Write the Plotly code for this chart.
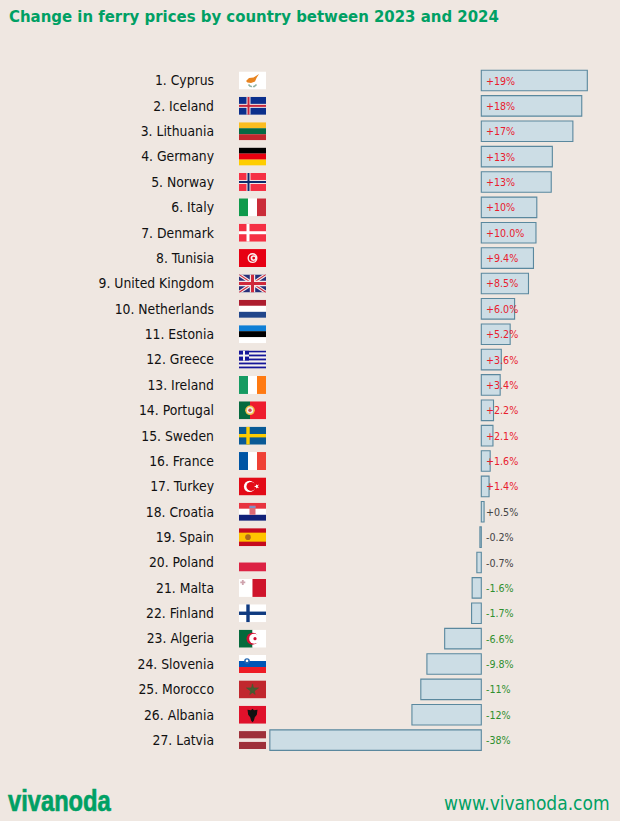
import base64
import plotly.graph_objects as go

countries = ["Cyprus", "Iceland", "Lithuania", "Germany", "Norway", "Italy", "Denmark", "Tunisia",
             "United Kingdom", "Netherlands", "Estonia", "Greece", "Ireland", "Portugal", "Sweden",
             "France", "Turkey", "Croatia", "Spain", "Poland", "Malta", "Finland", "Algeria",
             "Slovenia", "Morocco", "Albania", "Latvia"]
values = [19.1, 18.1, 16.5, 12.8, 12.6, 10.0, 9.85, 9.4, 8.5, 6.0, 5.2, 3.6, 3.4, 2.2, 2.1, 1.6, 1.4,
          0.5, -0.25, -0.8, -1.65, -1.75, -6.6, -9.8, -10.9, -12.5, -38.1]
value_labels = ["+19%", "+18%", "+17%", "+13%", "+13%", "+10%", "+10.0%", "+9.4%", "+8.5%", "+6.0%",
                "+5.2%", "+3.6%", "+3.4%", "+2.2%", "+2.1%", "+1.6%", "+1.4%", "+0.5%", "-0.2%", "-0.7%",
                "-1.6%", "-1.7%", "-6.6%", "-9.8%", "-11%", "-12%", "-38%"]

BG = "#efe7e1"
GREEN = "#00a064"
COND = "DejaVu Sans Condensed"


def hstripes(*cols):
    h = 18 / len(cols)
    return "".join(f'<rect x="0" y="{i*h}" width="27" height="{h + 0.05}" fill="{c}"/>' for i, c in enumerate(cols))


def vstripes(*cols):
    w = 27 / len(cols)
    return "".join(f'<rect x="{i*w}" y="0" width="{w + 0.05}" height="18" fill="{c}"/>' for i, c in enumerate(cols))


def cross(bg, outer, inner=None, w=3.4, cx=10):
    s = f'<rect width="27" height="18" fill="{bg}"/>'
    s += f'<rect x="{cx - w/2}" width="{w}" height="18" fill="{outer}"/><rect y="{9 - w/2}" width="27" height="{w}" fill="{outer}"/>'
    if inner:
        iw = w / 2
        s += f'<rect x="{cx - iw/2}" width="{iw}" height="18" fill="{inner}"/><rect y="{9 - iw/2}" width="27" height="{iw}" fill="{inner}"/>'
    return s


uk = ('<rect width="27" height="18" fill="#27307a"/>'
      '<path d="M0 0L27 18M27 0L0 18" stroke="#f2e9e9" stroke-width="3.4"/>'
      '<path d="M0 0L27 18M27 0L0 18" stroke="#cf2a3c" stroke-width="1.1"/>'
      '<path d="M13.5 0V18M0 9H27" stroke="#f2e9e9" stroke-width="5.4"/>'
      '<path d="M13.5 0V18M0 9H27" stroke="#cf2a3c" stroke-width="3"/>')
greece = (hstripes("#16169a", "#f6f2f0", "#16169a", "#f6f2f0", "#16169a", "#f6f2f0", "#16169a", "#f6f2f0", "#16169a")
          + '<rect width="10" height="10" fill="#16169a"/><rect x="4" width="2" height="10" fill="#f6f2f0"/>'
            '<rect y="4" width="10" height="2" fill="#f6f2f0"/>')
flags = {
    "Cyprus": '<rect width="27" height="18" fill="#ffffff"/>'
              '<path d="M7 9.5L10 6.5L14.5 6L20 2.5L17.5 6.5L16 10L12 11.5L8.5 11Z" fill="#e8831f"/>'
              '<path d="M9.5 13Q11 15.5 13 15M17.5 13Q15.5 15.5 14 15" stroke="#8fb4a4" stroke-width="1.5" fill="none"/>',
    "Iceland": cross("#0b2f8c", "#f0e6e6", "#c8283c", 4, 9.5),
    "Lithuania": hstripes("#fbbd21", "#056a44", "#c1272d"),
    "Germany": hstripes("#000000", "#e8000f", "#fecd00"),
    "Norway": cross("#f53044", "#f3eaea", "#0d2a6b", 4, 9.5),
    "Italy": vstripes("#0f9a4c", "#ffffff", "#ca2c39"),
    "Denmark": cross("#f53044", "#ffffff", None, 3, 9),
    "Tunisia": '<rect width="27" height="18" fill="#e70013"/><circle cx="13.5" cy="9" r="5" fill="#fbeeee"/>'
               '<circle cx="13.5" cy="9" r="3.6" fill="#e70013"/><circle cx="14.5" cy="9" r="2.9" fill="#fbeeee"/>'
               '<circle cx="14.7" cy="9" r="1.4" fill="#e70013"/>',
    "United Kingdom": uk,
    "Netherlands": hstripes("#ad1d2f", "#ffffff", "#21468b"),
    "Estonia": hstripes("#0f7fd6", "#000000", "#ffffff"),
    "Greece": greece,
    "Ireland": vstripes("#169b62", "#ffffff", "#ff7a12"),
    "Portugal": '<rect width="11" height="18" fill="#056a3f"/><rect x="11" width="16" height="18" fill="#ee1c2e"/>'
                '<circle cx="11" cy="9" r="4.8" fill="#f3c24a"/><circle cx="11" cy="9" r="3.2" fill="#f4ecea"/>'
                '<circle cx="11" cy="9" r="1.7" fill="#c8505a"/>',
    "Sweden": cross("#095a96", "#fecc02", None, 3.4, 9),
    "France": vstripes("#0055a4", "#ffffff", "#ef4135"),
    "Turkey": '<rect width="27" height="18" fill="#e30a17"/><circle cx="10.5" cy="9" r="5.6" fill="#ffffff"/>'
              '<circle cx="12" cy="9" r="4.5" fill="#e30a17"/>'
              '<path d="M15 9L20 7.2L17 11.4L17 6.6L20 10.8Z" fill="#ffffff"/>',
    "Croatia": hstripes("#e8333f", "#ffffff", "#11227a") + '<rect x="10.5" y="3" width="6" height="9" fill="#dd6a74"/>'
               '<rect x="10.5" y="3" width="6" height="2.2" fill="#7d8fc5"/>',
    "Spain": '<rect width="27" height="18" fill="#c60b1e"/><rect y="4.5" width="27" height="9" fill="#ffc400"/>'
             '<circle cx="9" cy="9" r="2.8" fill="#ad6a1d"/>',
    "Poland": f'<rect width="27" height="9" fill="{BG}"/><rect y="9" width="27" height="9" fill="#dc2243"/>',
    "Malta": '<rect width="13.5" height="18" fill="#ffffff"/><rect x="13.5" width="13.5" height="18" fill="#cf142b"/>'
             '<path d="M3.8 1V6M1.3 3.5H6.3" stroke="#cfa4ae" stroke-width="1.8"/>',
    "Finland": cross("#ffffff", "#0f3a80", None, 3.4, 9),
    "Algeria": '<rect width="13.5" height="18" fill="#056a3c"/><rect x="13.5" width="13.5" height="18" fill="#ffffff"/>'
               '<circle cx="13.5" cy="9" r="6" fill="#d21034"/><circle cx="15.2" cy="9" r="5" fill="#ffffff"/>'
               '<circle cx="16" cy="9" r="1.6" fill="#d21034"/>',
    "Slovenia": hstripes("#ffffff", "#0056b6", "#ee1c25") + '<circle cx="8" cy="6" r="2.8" fill="#2266b0"/><circle cx="8" cy="5.8" r="1.3" fill="#ffffff"/>',
    "Morocco": '<rect width="27" height="18" fill="#c1272d"/>'
               '<path d="M13.5 3.5L16.2 14L7.5 7.5H19.5L10.8 14Z" fill="#4c5a30" stroke="#3d6032" stroke-width="0.6"/>',
    "Albania": '<rect width="27" height="18" fill="#e0112b"/>'
               '<path d="M13.5 3L15 4.5L18.5 4L17.8 9L15.8 11.5L14.8 15L13.5 16.5L12.2 15L11.2 11.5L9.2 9L8.5 4L12 4.5Z" fill="#111111"/>',
    "Latvia": f'<rect width="27" height="18" fill="#9e3039"/><rect y="7.2" width="27" height="3.6" fill="{BG}"/>',
}


def uri(body):
    svg = f'<svg xmlns="http://www.w3.org/2000/svg" width="270" height="180" viewBox="0 0 27 18" preserveAspectRatio="none">{body}</svg>'
    return "data:image/svg+xml;base64," + base64.b64encode(svg.encode()).decode()


W, H = 620, 821
row_px = 25.37
first_row_px = 80.5
zero_px = 481.3
px_per_pct = 5.55
rows = list(range(len(countries)))


def label_color(v):
    if v >= 1:
        return "#e8202e"
    if v <= -1:
        return "#2f8f2f"
    return "#444444"


fig = go.Figure(go.Bar(
    y=rows, x=values, orientation="h", width=0.81,
    marker=dict(color="#ccdde5", line=dict(color="#5a889e", width=1.1)),
    hoverinfo="skip", showlegend=False,
))

fig.update_layout(
    width=W, height=H,
    margin=dict(l=0, r=0, t=0, b=0, pad=0),
    paper_bgcolor=BG, plot_bgcolor=BG,
    font=dict(family="DejaVu Sans", color="#111111"),
    title=dict(text="<b>Change in ferry prices by country between 2023 and 2024</b>",
               x=9 / W, xanchor="left", xref="paper", y=1 - 16.5 / H, yanchor="middle", yref="paper",
               font=dict(family=COND, size=16.6, color=GREEN), pad=dict(l=0, r=0, t=0, b=0)),
    xaxis=dict(range=[-zero_px / px_per_pct, (W - zero_px) / px_per_pct], visible=False, domain=[0, 1], fixedrange=True),
    yaxis=dict(range=[26 + (H - (first_row_px + 26 * row_px)) / row_px, -first_row_px / row_px],
               tickmode="array", tickvals=rows,
               ticktext=[f"{i + 1}. {c}" for i, c in enumerate(countries)],
               tickfont=dict(size=13.8, color="#111111", family=COND),
               anchor="free", position=214 / W, side="left",
               showgrid=False, zeroline=False, showline=False, ticks="", fixedrange=True),
    images=[dict(source=uri(flags[c]), xref="paper", yref="y", x=239 / W, y=i,
                 sizex=27 / W, sizey=18 / row_px, xanchor="left", yanchor="middle",
                 sizing="stretch", layer="above")
            for i, c in enumerate(countries)],
    annotations=[dict(x=0, y=i, xref="x", yref="y", text=t, xanchor="left", yanchor="middle", xshift=4,
                      showarrow=False, borderpad=0, font=dict(size=10.6, color=label_color(v), family=COND))
                 for i, (t, v) in enumerate(zip(value_labels, values))]
    + [dict(x=611 / W, y=1 - 802.5 / H, xref="paper", yref="paper", text="www.vivanoda.com",
            xanchor="right", yanchor="middle", showarrow=False, borderpad=0,
            font=dict(size=19, color=GREEN, family=COND)),
       dict(x=7 / W, y=1 - 800 / H, xref="paper", yref="paper", text="<b>vivanoda</b>",
            xanchor="left", yanchor="middle", showarrow=False, borderpad=0,
            font=dict(size=30, color=GREEN, family="Liberation Sans"))],
)

# The logo is a tall, narrow wordmark: squeeze the real text horizontally around its left edge.
squeeze = """
document.body.style.margin='0';document.body.style.overflow='hidden';
document.querySelectorAll('.annotation-text').forEach(function(t){
  if(t.textContent==='vivanoda'){
    var b=t.getBBox(); var x=b.x;
    t.setAttribute('transform','translate('+x+',0) scale(0.79,1) translate('+(-x)+',0)');
    t.style.stroke='#00a064'; t.style.strokeWidth='0.7px';
  }
});
"""
fig.write_html("out.html", config=dict(displayModeBar=False), post_script=squeeze)
